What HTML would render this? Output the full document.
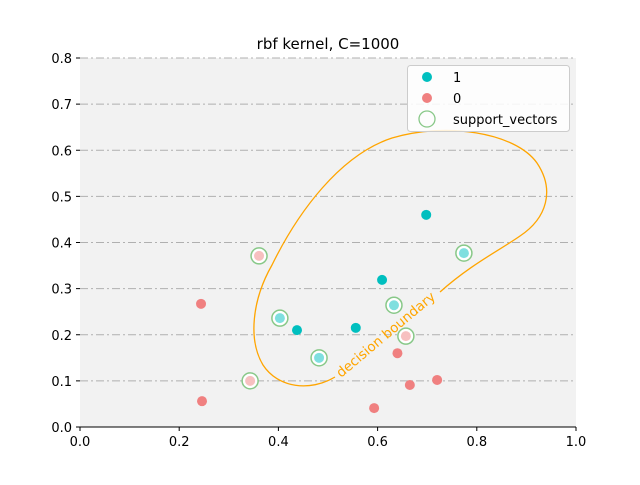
<!DOCTYPE html>
<html><head><meta charset="utf-8"><style>
body{margin:0;background:#fff}
svg text{font-family:"DejaVu Sans","Liberation Sans",sans-serif}
</style></head><body>
<svg id="c" width="640" height="480" xmlns="http://www.w3.org/2000/svg">
<rect x="80" y="58" width="496" height="369" fill="#f2f2f2"/>
<g id="grid"></g>
<g id="ticks"></g>
<path d="M335 377 C310 392,278 388,263 365 C248 340,252 300,272 265 C298 212,340 155,392 138 C445 122,515 132,537 163 C555 190,547 218,520 236 C500 250,470 265,440 292" fill="none" stroke="#ffa500" stroke-width="1.3"/>
<text transform="translate(341,378) rotate(-40)" font-size="13.5" fill="#ffa500">decision boundary</text>
<g id="pts"></g>
<line x1="80" y1="427" x2="576" y2="427" stroke="#000" stroke-width="1"/>
<text x="328" y="49" font-size="15" text-anchor="middle">rbf kernel, C=1000</text>
<g>
<rect x="407.5" y="65.5" width="162" height="66" rx="3" fill="#fff" fill-opacity="0.85" stroke="#ccc"/>
<circle cx="427" cy="77" r="5" fill="#00bfbf"/>
<text x="453" y="82" font-size="13">1</text>
<circle cx="427" cy="98" r="5" fill="#f08080"/>
<text x="453" y="103" font-size="13">0</text>
<circle cx="427" cy="119" r="8" fill="none" stroke="#88c888" stroke-width="1.3"/>
<text x="453" y="124" font-size="13">support_vectors</text>
</g>
</svg>
<script>
const class1X=[0.698,0.609,0.4375,0.556];
const class1Y=[0.460,0.319,0.210,0.215];
const class0X=[0.244,0.246,0.640,0.665,0.720,0.593];
const class0Y=[0.267,0.056,0.160,0.091,0.102,0.041];
const sv1X=[0.403,0.482,0.633,0.774];
const sv1Y=[0.236,0.150,0.264,0.377];
const sv0X=[0.361,0.343,0.657];
const sv0Y=[0.371,0.100,0.197];
const xTicks=["0.0","0.2","0.4","0.6","0.8","1.0"];
const yTicks=["0.0","0.1","0.2","0.3","0.4","0.5","0.6","0.7","0.8"];
const NS="http://www.w3.org/2000/svg";
const sx=v=>80+v*496, sy=v=>427-v*461.25;
function mk(tag,attrs,parent){const e=document.createElementNS(NS,tag);for(const k in attrs)e.setAttribute(k,attrs[k]);document.getElementById(parent).appendChild(e);return e;}
xTicks.forEach(t=>{const v=parseFloat(t),x=sx(v);
 const l=mk('line',{x1:x,y1:427,x2:x,y2:431,stroke:'#000'},'ticks');
 
 
 const tx=mk('text',{x:x,y:446,'font-size':13,'text-anchor':'middle'},'ticks');tx.textContent=t;
 
 });
yTicks.forEach(t=>{const v=parseFloat(t),y=sy(v);
 if(v>0){const g=mk('line',{x1:80,y1:y,x2:576,y2:y,stroke:'#b0b0b0','stroke-dasharray':'8 3 2 3'},'grid');
 
 }
 const l=mk('line',{x1:76,y1:y,x2:80,y2:y,stroke:'#000'},'ticks');
 
 
 const tx=mk('text',{x:72,y:y+5,'font-size':13,'text-anchor':'end'},'ticks');tx.textContent=t;
 
 });
function pts(X,Y,fill,sv,name){X.forEach((v,i)=>{
 if(sv){const r=mk('circle',{cx:sx(v),cy:sy(Y[i]),r:8,fill:'#fff',stroke:'#88c888','stroke-width':1.5},'pts');
 
 }
 const c=mk('circle',{cx:sx(v),cy:sy(Y[i]),r:5,fill:fill},'pts');
 
 });}
pts(class1X,class1Y,'#00bfbf',false,'point-class-1');
pts(class0X,class0Y,'#f08080',false,'point-class-0');
pts(sv1X,sv1Y,'#7fdfdf',true,'sv-point-class-1');
pts(sv0X,sv0Y,'#f7c0c0',true,'sv-point-class-0');
</script>
</body></html>
